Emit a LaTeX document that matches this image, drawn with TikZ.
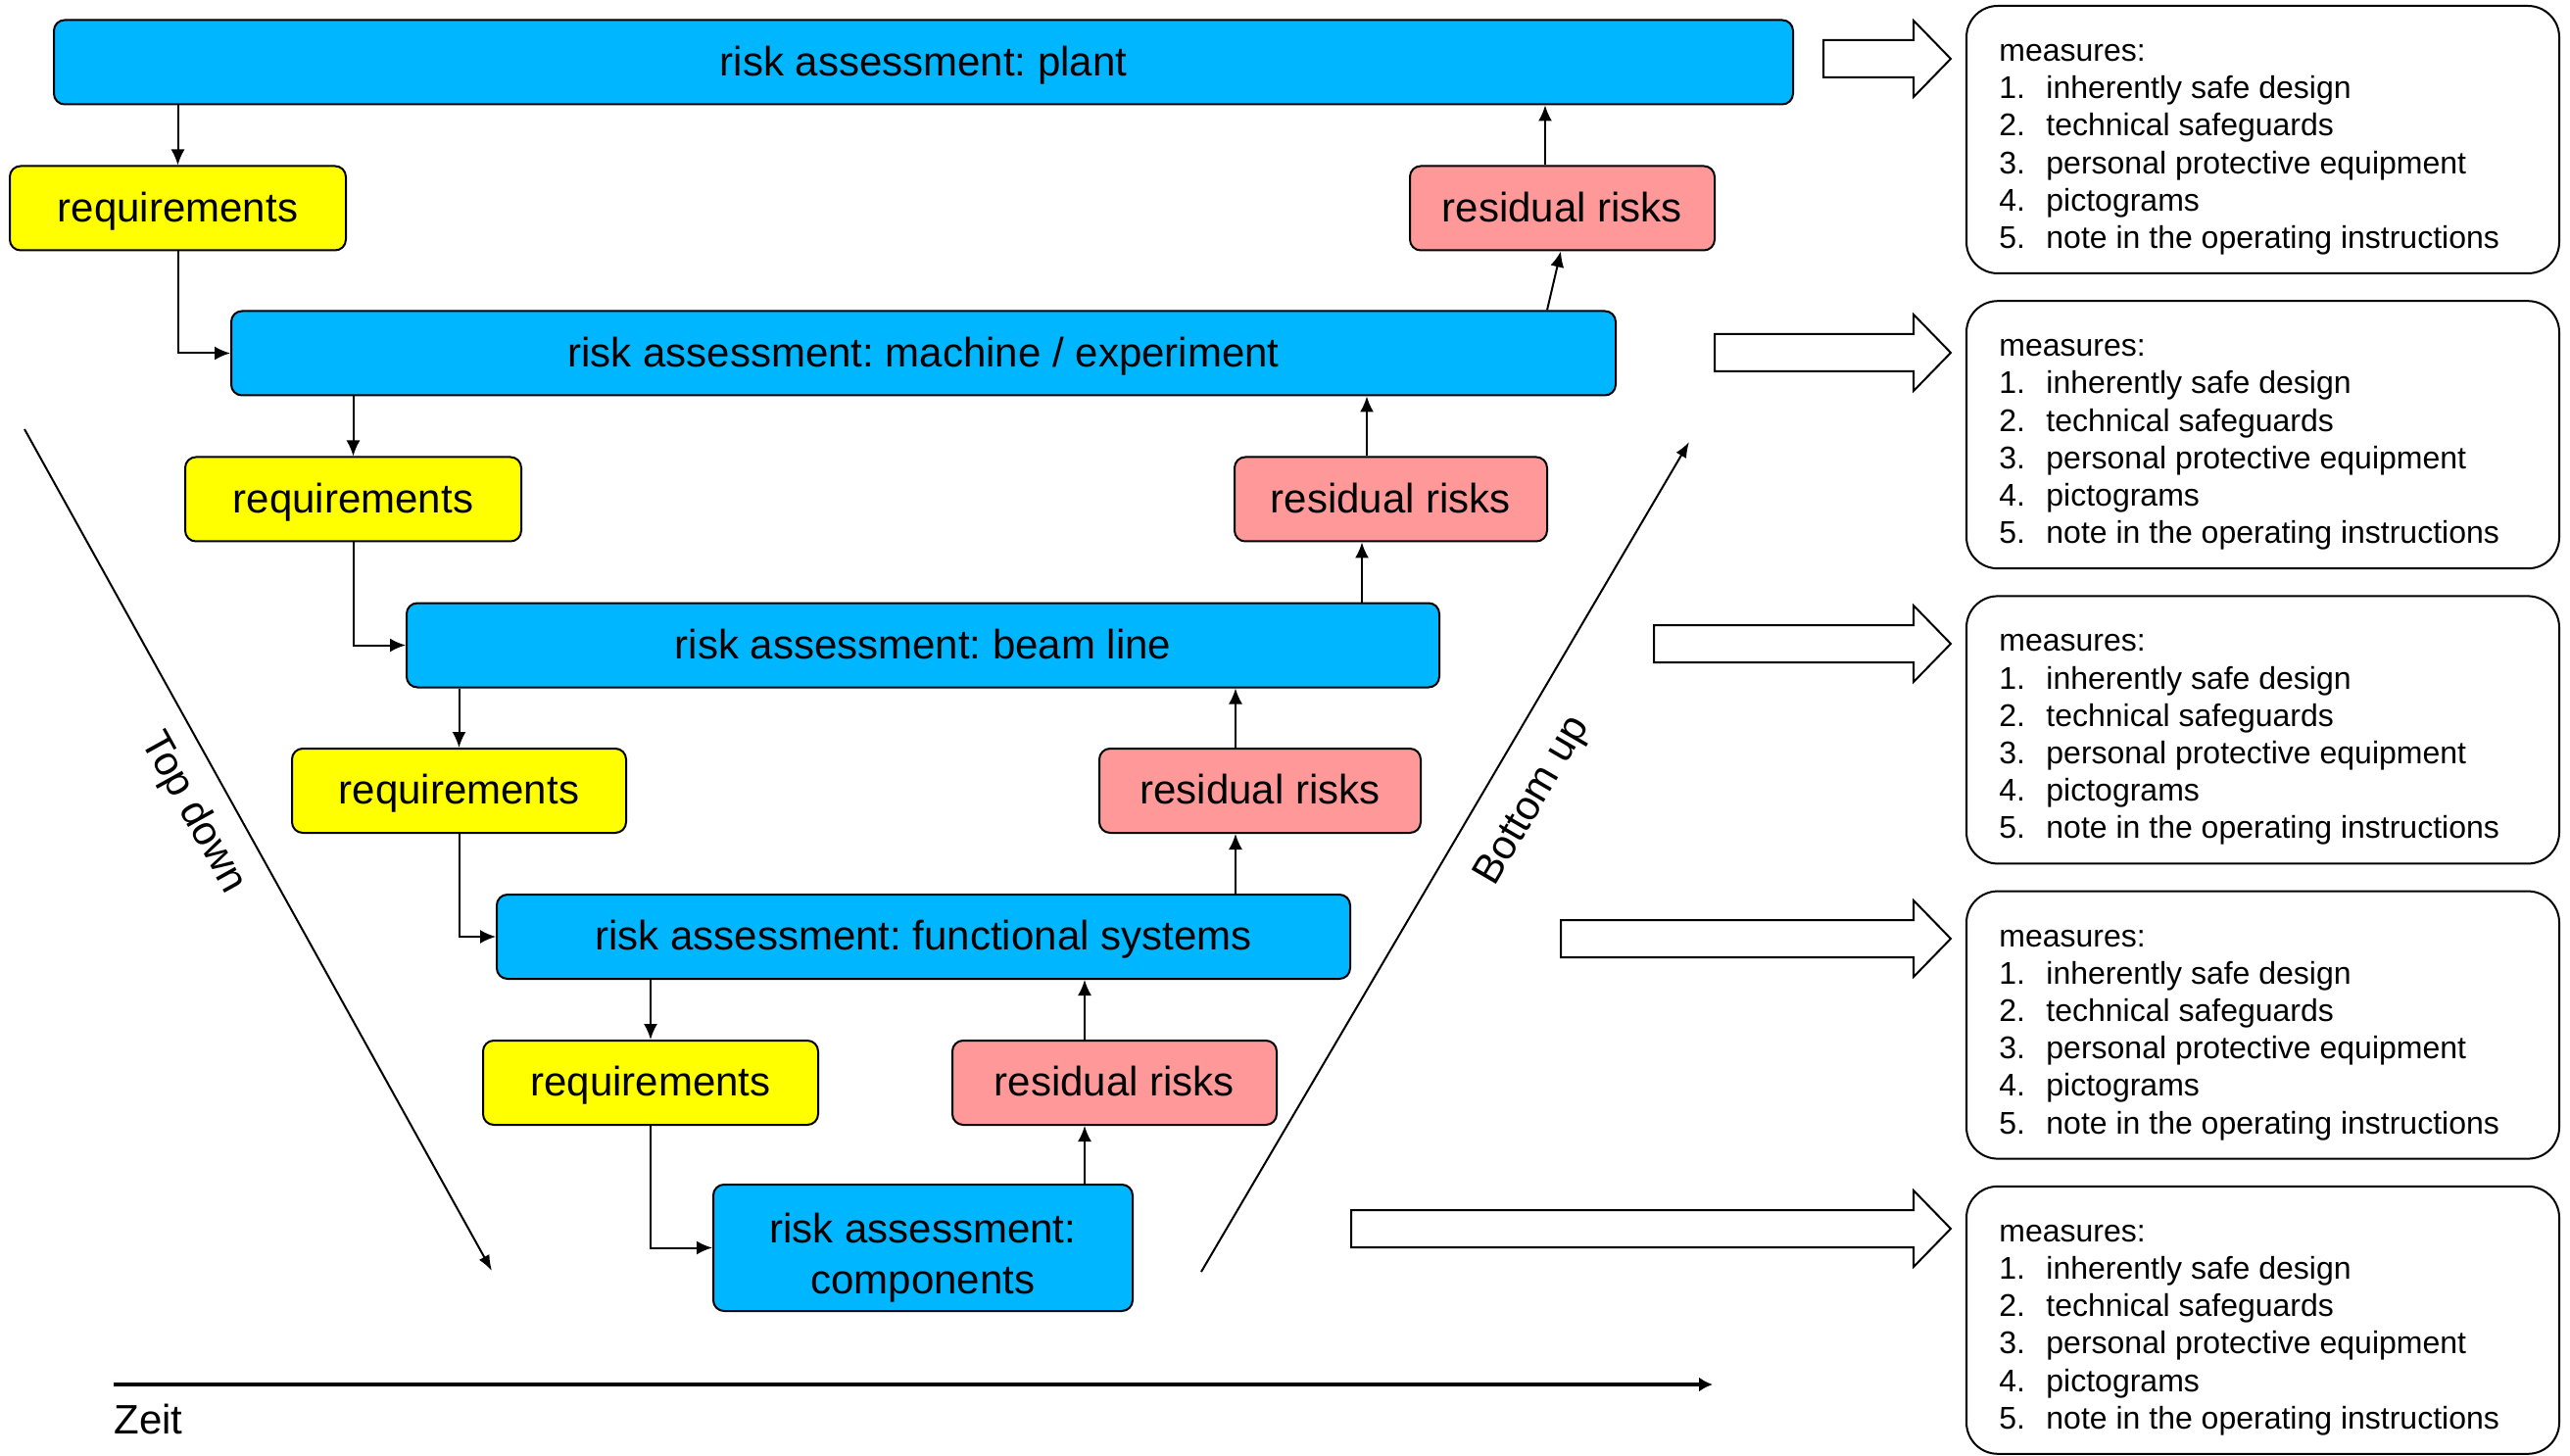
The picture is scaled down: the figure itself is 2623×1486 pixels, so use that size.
\documentclass[tikz,border=0pt]{standalone}
\usepackage{fontspec}
\setmainfont{Liberation Sans}
\usetikzlibrary{arrows.meta,calc}
\frenchspacing
\definecolor{rablue}{RGB}{0,183,255}
\definecolor{rayellow}{RGB}{255,255,0}
\definecolor{rapink}{RGB}{255,153,153}
\tikzset{
  box/.style={draw, line width=1pt, rounded corners=5.5pt, inner sep=0pt,
    minimum height=43pt, font=\fontsize{21}{26}\selectfont, align=center},
  oneline/.style={text height=18pt, text depth=4.4pt},
  rabox/.style={box, fill=rablue},
  reqbox/.style={box, oneline, fill=rayellow},
  resbox/.style={box, oneline, fill=rapink},
  conn/.style={line width=1pt, -{Latex[length=8pt,width=7pt]}},
  diag/.style={line width=1pt, -{Latex[length=8pt,width=6pt]}},
  timeaxis/.style={line width=1.8pt, -{Latex[length=7pt,width=7.5pt]}},
  lbl/.style={font=\fontsize{21}{26}\selectfont, inner sep=0pt},
  barrow/.style={draw, fill=white, line width=1pt, line join=miter},
  mbox/.style={draw, line width=1pt, rounded corners=16pt, minimum width=302.5pt,
    minimum height=136.5pt, inner sep=0pt},
  mtext/.style={font=\fontsize{16}{19}\selectfont, inner sep=0pt, anchor=base west}
}
\newcommand\blockarr[3]{%
  \draw[barrow] (#1,{#3-19}) -- ({#2-38},{#3-19}) -- ({#2-38},{#3-39}) -- (#2,#3)
    -- ({#2-38},{#3+39}) -- ({#2-38},{#3+19}) -- (#1,{#3+19}) -- cycle;}
\begin{document}
\begin{tikzpicture}[x=0.5pt,y=-0.5pt]
\useasboundingbox (0,0) rectangle (2623,1486);

% main boxes
\node[rabox, oneline, minimum width=887.5pt] (plant) at (942.5,63.5) {risk assessment: plant};
\node[rabox, oneline, minimum width=706.5pt] (machine) at (942.5,360.5) {risk assessment: machine / experiment};
\node[rabox, oneline, minimum width=527pt] (beam) at (942,658.5) {risk assessment: beam line};
\node[rabox, oneline, minimum width=435.5pt] (func) at (942.5,956) {risk assessment: functional systems};
\node[rabox, minimum width=214pt, minimum height=64.5pt] (comp) at (942,1273.5)
  {\raisebox{-5.5pt}[\height][\depth]{\begin{tabular}{@{}c@{}}risk assessment:\\components\end{tabular}}};

% requirements
\node[reqbox, minimum width=171.5pt] (req1) at (181.5,212.5) {requirements};
\node[reqbox, minimum width=171.5pt] (req2) at (360.5,509.5) {requirements};
\node[reqbox, minimum width=170.5pt] (req3) at (468.5,807) {requirements};
\node[reqbox, minimum width=171pt] (req4) at (664,1105) {requirements};

% residual risks
\node[resbox, minimum width=155.5pt] (res1) at (1594.5,212.5) {residual risks};
\node[resbox, minimum width=159.5pt] (res2) at (1419.5,509.5) {residual risks};
\node[resbox, minimum width=164pt] (res3) at (1286,807) {residual risks};
\node[resbox, minimum width=165.5pt] (res4) at (1137.5,1105) {residual risks};

% top-down connectors
\draw[conn] (req1.north |- plant.south) -- (req1.north);
\draw[conn] (req1.south) |- (machine.west);
\draw[conn] (req2.north |- machine.south) -- (req2.north);
\draw[conn] (req2.south) |- (beam.west);
\draw[conn] (req3.north |- beam.south) -- (req3.north);
\draw[conn] (req3.south) |- (func.west);
\draw[conn] (req4.north |- func.south) -- (req4.north);
\draw[conn] (req4.south) |- (comp.west);

% bottom-up connectors
\draw[conn] ($(comp.north)+(165,0)$) -- ($(res4.south)+(-30.5,0)$);
\draw[conn] ($(res4.north)+(-30.5,0)$) -- ($(func.south)+(164.5,0)$);
\draw[conn] ($(func.north)+(318.5,0)$) -- ($(res3.south)+(-25,0)$);
\draw[conn] ($(res3.north)+(-25,0)$) -- ($(beam.south)+(319,0)$);
\draw[conn] ($(beam.north)+(448,0)$) -- ($(res2.south)+(-29.5,0)$);
\draw[conn] ($(res2.north)+(-24.5,0)$) -- ($(machine.south)+(452.5,0)$);
\draw[conn] ($(machine.north)+(636.5,0)$) -- ($(res1.south)+(-1.5,0)$);
\draw[conn] ($(res1.north)+(-17.5,0)$) -- ($(plant.south)+(634.5,0)$);

% diagonal arrows and time axis
\coordinate (td1) at (25,438);
\coordinate (td2) at (502,1297);
\coordinate (bu1) at (1226,1298);
\coordinate (bu2) at (1724,451);
\coordinate (z1) at (116,1413);
\coordinate (z2) at (1748,1413);
\draw[diag] (td1) -- (td2);
\draw[diag] (bu1) -- (bu2);
\draw[timeaxis] (z1) -- (z2);
\node[lbl, rotate=-61] (tdl) at (197,830) {Top down};
\node[lbl, rotate=59.7] (bul) at (1565,818) {Bottom up};
\node[lbl, anchor=base west] (zeit) at (116,1463) {Zeit};

% block arrows
\blockarr{1861}{1991}{60}
\blockarr{1750}{1991}{360}
\blockarr{1688}{1991}{657}
\blockarr{1593}{1991}{958}
\blockarr{1379}{1991}{1254}

% measures boxes
\foreach \k in {0,...,4} {
  \pgfmathsetmacro\ty{6+301.2*\k}
  \node[mbox] (mb\k) at (2309.5,{\ty+136.5}) {};
  \node[mtext] (mh\k) at (2040,{\ty+56.5}) {measures:};
  \foreach \t [count=\i] in {inherently safe design, technical safeguards,
      personal protective equipment, pictograms, note in the operating instructions} {
    \node[mtext] (m\k-\i) at (2040,{\ty+56.5+38.2*\i}) {\makebox[24pt][l]{\i.}\t};
  }
}
\end{tikzpicture}
\end{document}
